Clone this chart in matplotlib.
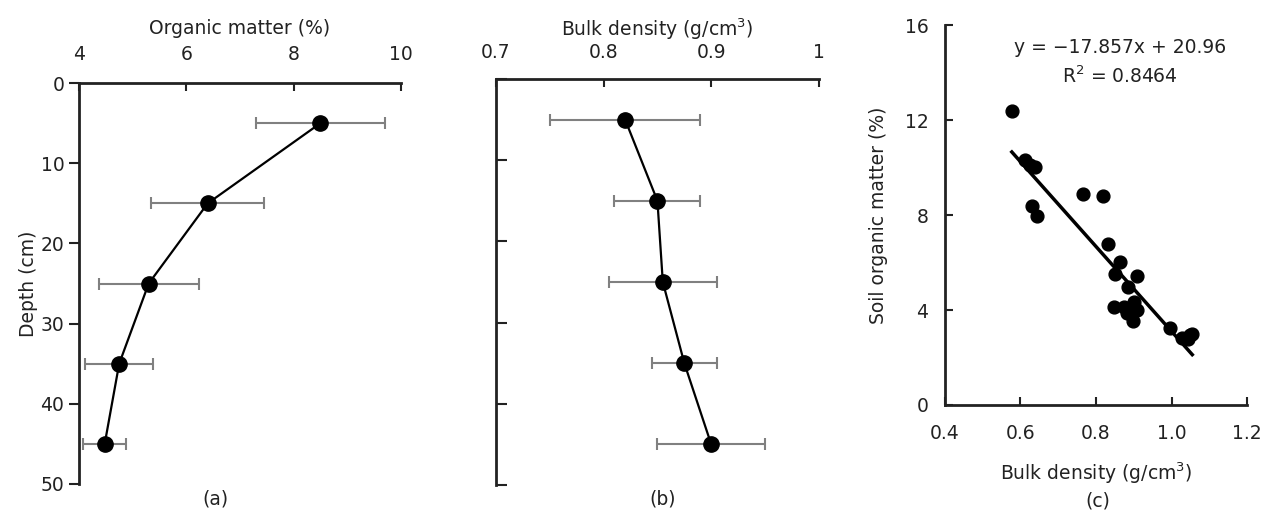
import numpy as np
import matplotlib
matplotlib.use("Agg")
import matplotlib.pyplot as plt

# depth profiles
depth = [5, 15, 25, 35, 45]
om_mean = [8.5, 6.4, 5.3, 4.75, 4.48]
om_err = [1.2, 1.05, 0.93, 0.63, 0.4]
bd_mean = [0.82, 0.85, 0.855, 0.875, 0.90]
bd_err = [0.07, 0.04, 0.05, 0.03, 0.05]

# scatter of bulk density vs soil organic matter
sc_bd = [0.577, 0.612, 0.625, 0.639, 0.630, 0.645, 0.765, 0.818, 0.833, 0.864,
         0.851, 0.908, 0.886, 0.848, 0.873, 0.900, 0.908, 0.882, 0.897, 0.997,
         1.028, 1.050, 1.055, 1.045]
sc_om = [12.38, 10.32, 10.1, 10.01, 8.38, 7.96, 8.87, 8.81, 6.77, 6.04,
         5.50, 5.43, 4.95, 4.14, 4.14, 4.35, 4.0, 3.86, 3.55, 3.23,
         2.81, 2.95, 3.0, 2.8]
slope, intercept = -17.857, 20.96
fit_x = [0.577, 1.055]

a_ticks = [4, 6, 8, 10]
b_ticks = [0.7, 0.8, 0.9, 1.0]
b_labels = ["0.7", "0.8", "0.9", "1"]
c_xticks = [0.4, 0.6, 0.8, 1.0, 1.2]
c_xlabels = ["0.4", "0.6", "0.8", "1.0", "1.2"]
c_yticks = [0, 4, 8, 12, 16]
depth_ticks = [0, 10, 20, 30, 40, 50]

plt.rcParams['font.family'] = ['DejaVu Sans']
fs = 13.5
txt = '#222222'
spine_c = '#222222'
err_c = '#808080'

fig = plt.figure(figsize=(12.61, 5.12), dpi=100)

# ---- (a) ----
ax1 = fig.add_axes([0.0626, 0.0547, 0.2553, 0.783])
ax1.errorbar(om_mean, depth, xerr=om_err, fmt='none', ecolor=err_c,
             elinewidth=1.5, capsize=4, capthick=1.5, zorder=2)
ax1.plot(om_mean, depth, '-o', color='black', lw=1.6, ms=11, zorder=3)
ax1.set_xlim(4, 10)
ax1.set_ylim(50, 0)
ax1.xaxis.set_ticks_position('top')
ax1.xaxis.set_label_position('top')
ax1.set_xticks(a_ticks)
ax1.set_yticks(depth_ticks)
ax1.tick_params(axis='x', direction='in', length=6, width=1.5, color=spine_c,
                labelsize=fs, labelcolor=txt, pad=14)
ax1.tick_params(axis='y', direction='out', length=7, width=1.5, color=spine_c,
                labelsize=fs, labelcolor=txt)
ax1.set_xlabel('Organic matter (%)', fontsize=fs, color=txt, labelpad=8)
ax1.set_ylabel('Depth (cm)', fontsize=fs, color=txt, labelpad=2)
for s in ['right', 'bottom']:
    ax1.spines[s].set_visible(False)
for s in ['top', 'left']:
    ax1.spines[s].set_linewidth(2)
    ax1.spines[s].set_color(spine_c)
fig.text(215 / 1261, 1 - 499 / 512, '(a)', ha='center', va='center',
         fontsize=fs, color=txt)

# ---- (b) ----
ax2 = fig.add_axes([0.3933, 0.0527, 0.2561, 0.793])
ax2.errorbar(bd_mean, depth, xerr=bd_err, fmt='none', ecolor=err_c,
             elinewidth=1.5, capsize=4, capthick=1.5, zorder=2)
ax2.plot(bd_mean, depth, '-o', color='black', lw=1.6, ms=11, zorder=3)
ax2.set_xlim(0.7, 1.0)
ax2.set_ylim(50, 0)
ax2.xaxis.set_ticks_position('top')
ax2.xaxis.set_label_position('top')
ax2.set_xticks(b_ticks)
ax2.set_xticklabels(b_labels)
ax2.set_yticks(depth_ticks)
ax2.set_yticklabels([])
ax2.tick_params(axis='x', direction='in', length=6, width=1.5, color=spine_c,
                labelsize=fs, labelcolor=txt, pad=12)
ax2.tick_params(axis='y', direction='in', length=8, width=1.5, color=spine_c)
ax2.set_xlabel('Bulk density (g/cm$^3$)', fontsize=fs, color=txt, labelpad=5)
for s in ['right', 'bottom']:
    ax2.spines[s].set_visible(False)
for s in ['top', 'left']:
    ax2.spines[s].set_linewidth(2)
    ax2.spines[s].set_color(spine_c)
fig.text(663 / 1261, 1 - 499 / 512, '(b)', ha='center', va='center',
         fontsize=fs, color=txt)

# ---- (c) ----
ax3 = fig.add_axes([0.7494, 0.209, 0.2395, 0.742])
ax3.scatter(sc_bd, sc_om, s=85, color='black', zorder=3)
fx = np.array(fit_x)
ax3.plot(fx, slope * fx + intercept, color='black', lw=2.5, zorder=2)
ax3.set_xlim(0.4, 1.2)
ax3.set_ylim(0, 16)
ax3.set_xticks(c_xticks)
ax3.set_xticklabels(c_xlabels)
ax3.set_yticks(c_yticks)
ax3.tick_params(direction='in', length=6, width=1.5, color=spine_c,
                labelsize=fs, labelcolor=txt)
ax3.tick_params(axis='x', pad=14)
ax3.tick_params(axis='y', pad=12)
ax3.set_xlabel('Bulk density (g/cm$^3$)', fontsize=fs, color=txt, labelpad=12)
ax3.set_ylabel('Soil organic matter (%)', fontsize=fs, color=txt, labelpad=12)
for s in ['right', 'top']:
    ax3.spines[s].set_visible(False)
for s in ['left', 'bottom']:
    ax3.spines[s].set_linewidth(2)
    ax3.spines[s].set_color(spine_c)
ax3.text(0.58, 0.94, 'y = \u221217.857x + 20.96', transform=ax3.transAxes,
         ha='center', va='center', fontsize=fs, color=txt)
ax3.text(0.58, 0.865, 'R$^2$ = 0.8464', transform=ax3.transAxes,
         ha='center', va='center', fontsize=fs, color=txt)
fig.text(1098 / 1261, 1 - 501 / 512, '(c)', ha='center', va='center',
         fontsize=fs, color=txt)

fig.savefig('out.png', dpi=100)
